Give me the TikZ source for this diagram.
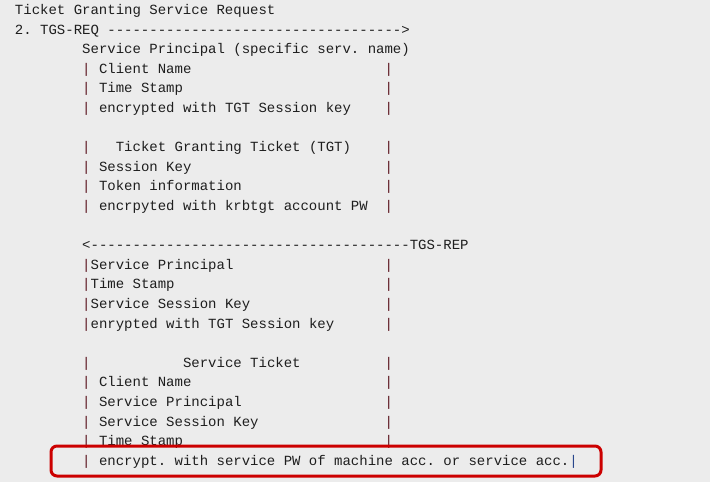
\documentclass[tikz,border=0pt]{standalone}
\usepackage{fontspec}
\setmonofont{Liberation Mono}
\usetikzlibrary{positioning,calc}
\definecolor{paper}{RGB}{236,236,236}
\definecolor{ink}{RGB}{30,30,30}
\definecolor{pipecol}{RGB}{92,22,32}
\definecolor{cursorcol}{RGB}{40,70,140}
\definecolor{boxred}{RGB}{204,0,0}
\newcommand{\cx}[1]{15+8.4*#1}
\newcommand{\ry}[1]{14.5+19.6*(#1-1)}
\tikzset{
  txt/.style={anchor=base west,inner sep=0pt,outer sep=0pt,font=\ttfamily\fontsize{14}{16}\selectfont,text=ink},
  pipe/.style={txt,text=pipecol}
}
\frenchspacing
\begin{document}
\begin{tikzpicture}[x=1pt,y=-1pt]
\fill[paper] (0,0) rectangle (710,482);
% request
\node[txt] (head) at ({\cx{0}},{\ry{1}}) {Ticket Granting Service Request};
\node[txt] (req) at ({\cx{0}},{\ry{2}}) {2. TGS-REQ ----------------------------------->};
\node[txt] (sp) at ({\cx{8}},{\ry{3}}) {Service Principal (specific serv. name)};
\node[txt] (cn) at ({\cx{10}},{\ry{4}}) {Client Name};
\node[txt] (ts) at ({\cx{10}},{\ry{5}}) {Time Stamp};
\node[txt] (enc) at ({\cx{10}},{\ry{6}}) {encrypted with TGT Session key};
% TGT
\node[txt] (tgt) at ({\cx{12}},{\ry{8}}) {Ticket Granting Ticket (TGT)};
\node[txt] (sk) at ({\cx{10}},{\ry{9}}) {Session Key};
\node[txt] (tok) at ({\cx{10}},{\ry{10}}) {Token information};
\node[txt] (krb) at ({\cx{10}},{\ry{11}}) {encrpyted with krbtgt account PW};
% reply
\node[txt] (rep) at ({\cx{8}},{\ry{13}}) {<--------------------------------------TGS-REP};
\node[txt] (rsp) at ({\cx{9}},{\ry{14}}) {Service Principal};
\node[txt] (rts) at ({\cx{9}},{\ry{15}}) {Time Stamp};
\node[txt] (rsk) at ({\cx{9}},{\ry{16}}) {Service Session Key};
\node[txt] (renc) at ({\cx{9}},{\ry{17}}) {enrypted with TGT Session key};
% service ticket
\node[txt] (st) at ({\cx{20}},{\ry{19}}) {Service Ticket};
\node[txt] (stcn) at ({\cx{10}},{\ry{20}}) {Client Name};
\node[txt] (stsp) at ({\cx{10}},{\ry{21}}) {Service Principal};
\node[txt] (stsk) at ({\cx{10}},{\ry{22}}) {Service Session Key};
\node[txt] (stts) at ({\cx{10}},{\ry{23}}) {Time Stamp};
\node[txt] (stenc) at ({\cx{10}},{\ry{24}}) {encrypt. with service PW of machine acc. or service acc.};
% side bars
\foreach \r in {4,5,6,8,9,10,11,14,15,16,17,19,20,21,22,23}{
  \node[pipe] (pl\r) at ({\cx{8}},{\ry{\r}}) {|};
  \node[pipe] (pr\r) at ({\cx{44}},{\ry{\r}}) {|};
}
\node[pipe] (pl24) at ({\cx{8}},{\ry{24}}) {|};
\node[pipe,text=cursorcol] (pr24) at ({\cx{66}},{\ry{24}}) {|};
% highlight
\draw[boxred,line width=3pt,rounded corners=6pt] (51,446) rectangle (601,476);
\end{tikzpicture}
\end{document}
